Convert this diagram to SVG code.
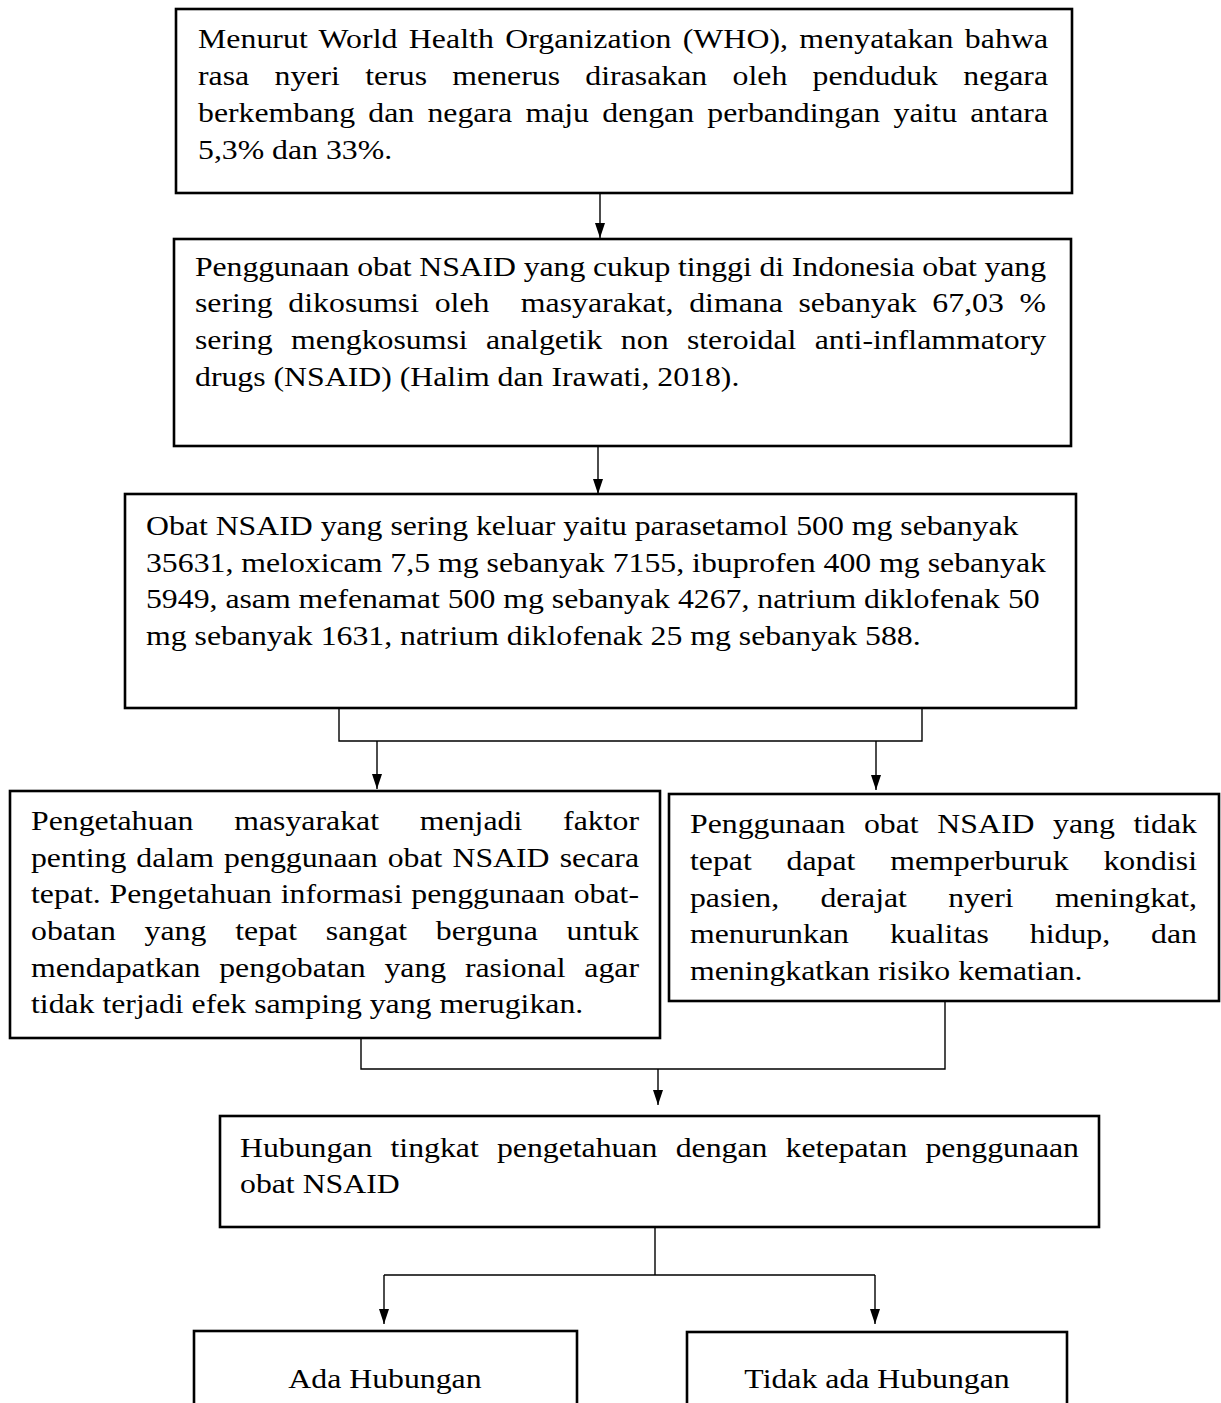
<svg xmlns="http://www.w3.org/2000/svg" width="1221" height="1403" viewBox="0 0 1221 1403">
<style>
.box{fill:#fff;stroke:#000;stroke-width:2.6}
.t{font-family:"Liberation Serif","Times New Roman",serif;font-size:28px;fill:#000}
.c{fill:none;stroke:#000;stroke-width:1.4}
</style>
<defs>
<marker id="ah" viewBox="0 0 15 10" refX="15" refY="5" markerUnits="userSpaceOnUse" markerWidth="15" markerHeight="10" orient="auto" preserveAspectRatio="none">
<path d="M0,0 L15,5 L0,10 z" fill="#000"/>
</marker>
</defs>
<rect width="1221" height="1403" fill="#fff"/>
<g id="connectors">
<path class="c" d="M600,193 V238" marker-end="url(#ah)"/>
<path class="c" d="M598,446 V494" marker-end="url(#ah)"/>
<path class="c" d="M339,708 V741 H922 V708"/>
<path class="c" d="M377,741 V789" marker-end="url(#ah)"/>
<path class="c" d="M876,741 V790" marker-end="url(#ah)"/>
<path class="c" d="M361,1038 V1069 H945 V1001"/>
<path class="c" d="M658,1069 V1105" marker-end="url(#ah)"/>
<path class="c" d="M655,1227 V1275 M384,1275 H875"/>
<path class="c" d="M384,1275 V1324" marker-end="url(#ah)"/>
<path class="c" d="M875,1275 V1324" marker-end="url(#ah)"/>
</g>
<g id="n1">
<rect class="box" x="176" y="9" width="896" height="184"/>
<g class="t" transform="scale(1.135,1)">
<text x="174.45" y="48" word-spacing="2.9" textLength="748.9" lengthAdjust="spacing">Menurut World Health Organization (WHO), menyatakan bahwa</text>
<text x="174.45" y="85" word-spacing="15.3" textLength="748.9" lengthAdjust="spacing">rasa nyeri terus menerus dirasakan oleh penduduk negara</text>
<text x="174.45" y="122" word-spacing="4.7" textLength="748.9" lengthAdjust="spacing">berkembang dan negara maju dengan perbandingan yaitu antara</text>
<text x="174.45" y="159">5,3% dan 33%.</text>
</g>
</g>
<g id="n2">
<rect class="box" x="174" y="239" width="897" height="207"/>
<g class="t" transform="scale(1.135,1)">
<text x="171.81" y="276" textLength="749.8" lengthAdjust="spacing">Penggunaan obat NSAID yang cukup tinggi di Indonesia obat yang</text>
<text x="171.81" y="312" word-spacing="6.8" textLength="749.8" lengthAdjust="spacing" xml:space="preserve">sering dikosumsi oleh  masyarakat, dimana sebanyak 67,03 %</text>
<text x="171.81" y="349" word-spacing="9.2" textLength="749.8" lengthAdjust="spacing">sering mengkosumsi analgetik non steroidal anti-inflammatory</text>
<text x="171.81" y="386">drugs (NSAID) (Halim dan Irawati, 2018).</text>
</g>
</g>
<g id="n3">
<rect class="box" x="125" y="494" width="951" height="214"/>
<g class="t" transform="scale(1.135,1)">
<text x="128.63" y="535">Obat NSAID yang sering keluar yaitu parasetamol 500 mg sebanyak</text>
<text x="128.63" y="572">35631, meloxicam 7,5 mg sebanyak 7155, ibuprofen 400 mg sebanyak</text>
<text x="128.63" y="608">5949, asam mefenamat 500 mg sebanyak 4267, natrium diklofenak 50</text>
<text x="128.63" y="645">mg sebanyak 1631, natrium diklofenak 25 mg sebanyak 588.</text>
</g>
</g>
<g id="n4">
<rect class="box" x="10" y="791" width="650" height="247"/>
<g class="t" transform="scale(1.135,1)">
<text x="27.31" y="830" word-spacing="29" textLength="535.7" lengthAdjust="spacing">Pengetahuan masyarakat menjadi faktor</text>
<text x="27.31" y="867" word-spacing="1.9" textLength="535.7" lengthAdjust="spacing">penting dalam penggunaan obat NSAID secara</text>
<text x="27.31" y="903" word-spacing="0.7" textLength="535.7" lengthAdjust="spacing">tepat. Pengetahuan informasi penggunaan obat-</text>
<text x="27.31" y="940" word-spacing="18.3" textLength="535.7" lengthAdjust="spacing">obatan yang tepat sangat berguna untuk</text>
<text x="27.31" y="977" word-spacing="9.5" textLength="535.7" lengthAdjust="spacing">mendapatkan pengobatan yang rasional agar</text>
<text x="27.31" y="1013">tidak terjadi efek samping yang merugikan.</text>
</g>
</g>
<g id="n5">
<rect class="box" x="669" y="794" width="550" height="207"/>
<g class="t" transform="scale(1.135,1)">
<text x="607.93" y="833" word-spacing="9.4" textLength="446.7" lengthAdjust="spacing">Penggunaan obat NSAID yang tidak</text>
<text x="607.93" y="870" word-spacing="23.7" textLength="446.7" lengthAdjust="spacing">tepat dapat memperburuk kondisi</text>
<text x="607.93" y="907" word-spacing="29.4" textLength="446.7" lengthAdjust="spacing">pasien, derajat nyeri meningkat,</text>
<text x="607.93" y="943" word-spacing="29.1" textLength="446.7" lengthAdjust="spacing">menurunkan kualitas hidup, dan</text>
<text x="607.93" y="980">meningkatkan risiko kematian.</text>
</g>
</g>
<g id="n6">
<rect class="box" x="220" y="1116" width="879" height="111"/>
<g class="t" transform="scale(1.135,1)">
<text x="211.45" y="1157" word-spacing="9" textLength="739.2" lengthAdjust="spacing">Hubungan tingkat pengetahuan dengan ketepatan penggunaan</text>
<text x="211.45" y="1193">obat NSAID</text>
</g>
</g>
<g id="n7">
<rect class="box" x="194" y="1331" width="383" height="100"/>
<g class="t" transform="scale(1.135,1)">
<text x="339.2" y="1388" text-anchor="middle">Ada Hubungan</text>
</g>
</g>
<g id="n8">
<rect class="box" x="687" y="1332" width="380" height="100"/>
<g class="t" transform="scale(1.135,1)">
<text x="772.7" y="1388" text-anchor="middle">Tidak ada Hubungan</text>
</g>
</g>
</svg>
